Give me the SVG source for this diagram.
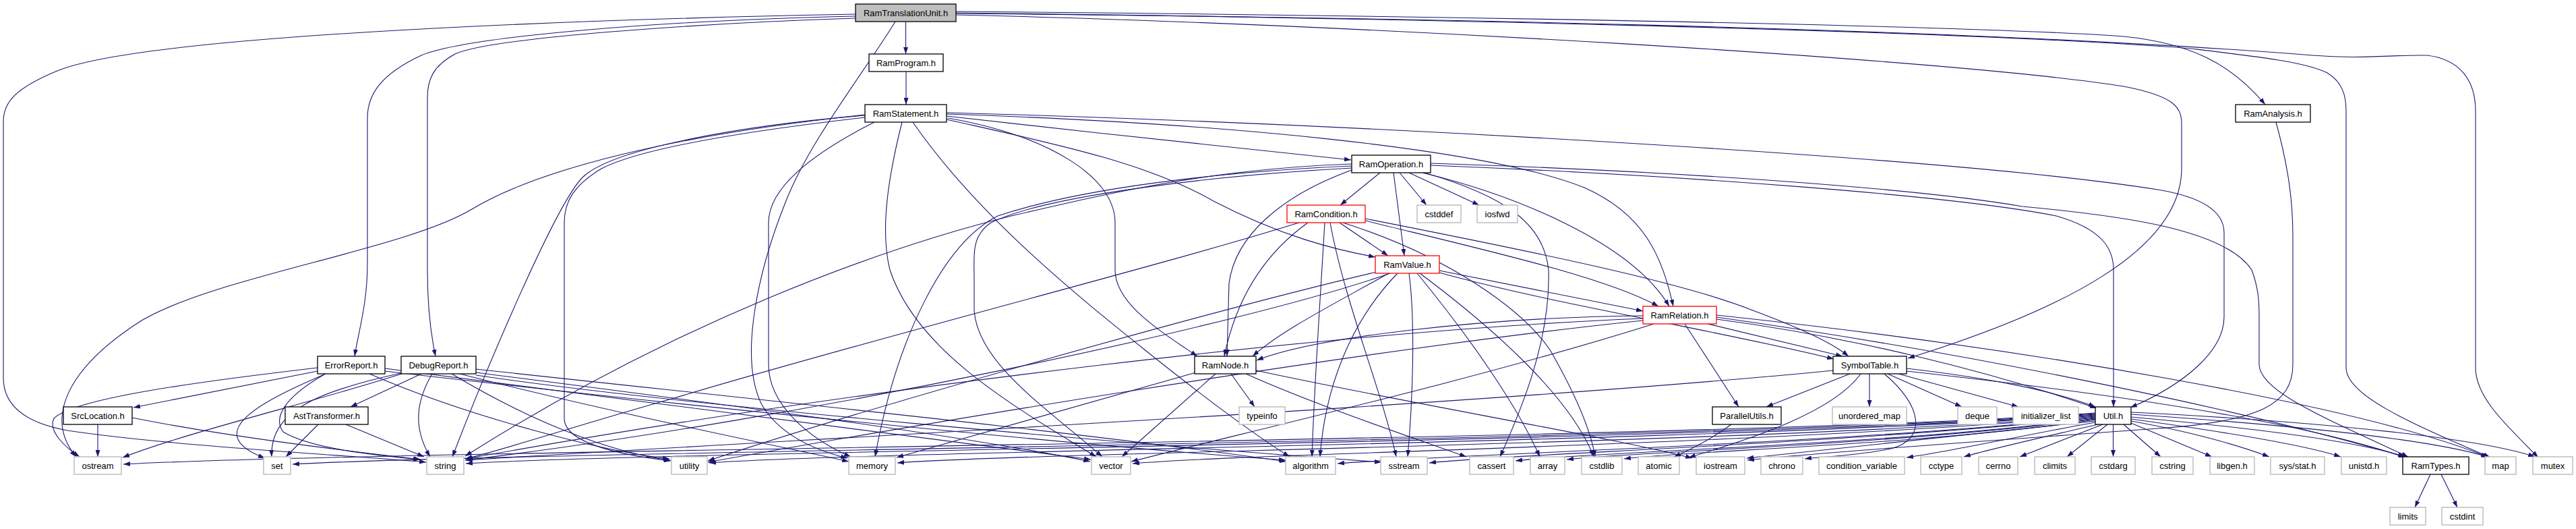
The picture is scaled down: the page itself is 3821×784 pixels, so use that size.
<svg xmlns="http://www.w3.org/2000/svg" width="3821" height="784" viewBox="0 0 3821 784">
<style>
.e path{fill:none;stroke:#191970;stroke-width:1.1;marker-end:url(#a)}
.nd rect{fill:#fff;stroke:#000;stroke-width:1.3}
.nd.g rect{stroke:#bfbfbf;stroke-width:1.5}
.nd.r rect{stroke:#ff0000}
.nd.root rect{fill:#bfbfbf}
.nd text{font-family:"Liberation Sans",Arial,sans-serif;font-size:13px;text-anchor:middle;fill:#000}
</style>
<defs>
<marker id="a" viewBox="0 0 10 7" refX="10" refY="3.5" markerWidth="10" markerHeight="7" markerUnits="userSpaceOnUse" orient="auto"><path d="M0,0 L10,3.5 L0,7 z" fill="#191970"/></marker>
</defs>
<rect width="3821" height="784" fill="#fff"/>
<g id="edges" class="e">
<path d="M1343.5,32 L1343.5,80"/>
<path d="M1269,24 C1000,30 700,52 625,82 C565,110 545,140 545,175 L545,390 C545,450 532,490 526,528"/>
<path d="M1269,27 C1050,34 730,55 675,80 C642,98 634,118 634,145 L634,400 C634,460 640,500 646,528"/>
<path d="M1269,21 C900,28 220,50 85,105 C25,130 5,150 5,180 L5,560 C5,605 45,628 100,638 C260,662 540,676 632,685"/>
<path d="M1328,32 C1280,110 1200,210 1165,300 C1125,400 1095,530 1130,600 C1160,650 1220,670 1257,679"/>
<path d="M1418,22 C2000,35 2900,88 3150,128 C3228,143 3236,160 3236,185 L3236,250 C3236,370 3060,460 2830,531"/>
<path d="M1418,17 C2000,22 2900,36 3150,54 C3250,64 3310,95 3360,155"/>
<path d="M1418,19 C2000,26 2900,44 3250,72 C3350,84 3420,92 3452,108 C3475,122 3480,142 3480,165 L3480,545 C3480,585 3570,625 3694,678"/>
<path d="M1418,20 C2000,25 2900,40 3430,82 C3500,88 3550,81 3600,82 C3650,88 3672,120 3672,165 L3672,545 C3672,590 3720,632 3765,678"/>
<path d="M1344,106 L1344,155"/>
<path d="M1404,172 C1600,195 1850,220 2004,237"/>
<path d="M1404,169 C1800,182 2200,218 2350,278 C2440,318 2465,380 2482,454"/>
<path d="M1406,175 C1550,200 1654,260 1654,330 L1654,400 C1654,450 1720,490 1776,528"/>
<path d="M1404,177 C1550,210 1700,240 1800,298 C1900,350 1980,370 2040,381"/>
<path d="M1404,167 C2000,183 2900,233 3200,281 C3280,294 3299,320 3299,345 L3299,470 C3299,520 3240,570 3160,604"/>
<path d="M1283,170 C1000,200 800,250 700,310 C600,370 320,410 210,475 C100,545 65,620 113,677"/>
<path d="M1283,171 C1100,186 910,220 865,262 C825,300 720,550 671,677"/>
<path d="M1283,174 C1100,195 950,220 892,250 C850,275 837,300 837,330 L837,620 C837,652 900,672 995,683"/>
<path d="M1297,181 C1200,230 1140,280 1140,330 L1140,540 C1140,600 1200,650 1262,677"/>
<path d="M1338,181 C1318,260 1305,340 1320,400 C1360,520 1500,600 1626,677"/>
<path d="M1354,181 C1450,320 1600,440 1700,520 C1800,600 1870,650 1913,677"/>
<path d="M2047,256 L1988,304"/>
<path d="M2067,256 L2083,379"/>
<path d="M2076,256 L2116,304"/>
<path d="M2090,256 L2194,304"/>
<path d="M2110,256 C2250,290 2420,360 2476,454"/>
<path d="M2005,252 C1900,290 1832,350 1823,420 L1820,528"/>
<path d="M2005,243 C1800,250 1650,285 1500,320 C1300,370 1000,480 690,676"/>
<path d="M2005,246 C1800,255 1600,280 1480,320 C1400,360 1330,500 1298,677"/>
<path d="M2005,249 C1800,260 1550,290 1470,330 C1440,350 1445,380 1445,410 L1445,460 C1450,540 1560,610 1635,677"/>
<path d="M2113,256 C2230,290 2290,330 2297,400 C2300,500 2260,600 2225,677"/>
<path d="M2122,245 C2500,260 2900,290 3050,320 C3120,340 3135,370 3135,400 L3135,603"/>
<path d="M2122,242 C2500,254 2850,280 3000,306 C3150,320 3300,340 3340,400 C3351,430 3351,450 3351,470 L3351,540 C3351,580 3450,620 3572,677"/>
<path d="M1987,330 L2059,379"/>
<path d="M2025,327 C2200,370 2380,410 2460,454"/>
<path d="M2025,324 C2300,378 2500,420 2600,460 C2680,490 2720,510 2742,528"/>
<path d="M1940,330 C1870,380 1832,450 1816,528"/>
<path d="M1927,330 C1700,400 1300,500 1000,590 C850,632 750,666 690,680"/>
<path d="M1965,330 C1958,450 1950,560 1946,677"/>
<path d="M1973,330 C1995,450 2050,580 2071,677"/>
<path d="M1992,330 C2150,380 2260,460 2300,520 C2340,590 2360,640 2366,677"/>
<path d="M2135,401 L2437,461"/>
<path d="M2135,404 C2300,450 2550,490 2720,532"/>
<path d="M2060,405 C1980,450 1900,490 1858,528"/>
<path d="M2042,403 C1800,460 1300,600 1050,683"/>
<path d="M2062,405 C1850,480 1200,620 690,682"/>
<path d="M2073,405 C2000,480 1965,580 1958,677"/>
<path d="M2090,405 C2100,480 2095,600 2088,677"/>
<path d="M2102,405 C2180,500 2250,600 2284,677"/>
<path d="M2106,405 C2220,490 2330,590 2364,677"/>
<path d="M2499,480 L2579,603"/>
<path d="M2533,480 L2733,528"/>
<path d="M2546,473 C2750,500 2950,550 3110,605"/>
<path d="M2546,470 C2900,520 3300,600 3568,677"/>
<path d="M2546,467 C3000,515 3500,600 3692,678"/>
<path d="M2437,468 C2200,470 1950,500 1864,534"/>
<path d="M2437,472 C2000,490 1300,570 691,680"/>
<path d="M2437,475 C2000,520 1300,640 1050,685"/>
<path d="M2453,480 C2200,560 1850,640 1678,684"/>
<path d="M1826,554 L1861,603"/>
<path d="M1803,554 L1664,677"/>
<path d="M1774,552 L1330,678"/>
<path d="M1848,554 C1950,600 2100,650 2175,677"/>
<path d="M1863,549 C2100,600 2400,650 2510,679"/>
<path d="M471,545 C300,565 110,590 80,620 C70,640 100,665 118,677"/>
<path d="M471,550 L198,604"/>
<path d="M483,554 C400,590 290,640 393,679"/>
<path d="M481,555 C420,590 405,620 420,640 C460,665 560,675 623,681"/>
<path d="M548,554 C700,620 900,670 993,680"/>
<path d="M571,546 C900,590 1400,650 1618,681"/>
<path d="M571,550 C1000,600 1600,660 1907,682"/>
<path d="M596,554 C450,600 280,640 182,678"/>
<path d="M595,553 C470,580 400,610 403,677"/>
<path d="M625,554 L520,603"/>
<path d="M641,554 C620,590 610,630 638,677"/>
<path d="M670,554 C780,620 900,670 994,682"/>
<path d="M706,552 C1000,590 1400,640 1617,684"/>
<path d="M706,547 C1100,590 1600,640 1908,684"/>
<path d="M706,556 C1000,600 1700,660 2049,685"/>
<path d="M682,554 C900,610 1150,660 1259,684"/>
<path d="M145,629 L145,677"/>
<path d="M196,619 C350,650 550,672 624,681"/>
<path d="M472,629 L424,677"/>
<path d="M513,629 L629,677"/>
<path d="M2744,554 L2620,603"/>
<path d="M2773,554 L2773,603"/>
<path d="M2800,554 L2910,603"/>
<path d="M2816,554 L2994,603"/>
<path d="M2828,546 C2950,560 3050,580 3108,603"/>
<path d="M2828,550 C3100,580 3400,620 3568,678"/>
<path d="M2760,554 C2720,610 2600,650 2505,678"/>
<path d="M2795,554 C2850,600 2860,650 2805,665 C2750,676 2700,677 2677,680"/>
<path d="M2719,549 C2200,600 1200,650 691,682"/>
<path d="M2568,629 C2540,650 2510,665 2483,677"/>
<path d="M3376,181 C3395,250 3401,300 3401,350 L3401,540 C3401,600 3350,625 3200,635 C3000,650 2700,670 2592,682"/>
<path d="M3108,612 C2500,655 600,666 183,688"/>
<path d="M3108,613 C2500,656 800,668 434,688"/>
<path d="M3108,614 C2500,657 1000,668 691,687"/>
<path d="M3108,615 C2500,658 1300,668 1052,686"/>
<path d="M3108,616 C2600,658 1550,670 1331,686"/>
<path d="M3108,617 C2600,660 1850,672 1680,687"/>
<path d="M3108,618 C2700,660 2150,673 1984,687"/>
<path d="M3108,619 C2700,660 2250,672 2120,686"/>
<path d="M3108,620 C2800,660 2350,670 2248,683"/>
<path d="M3108,621 C2800,660 2420,670 2324,681"/>
<path d="M3108,622 C2850,660 2500,668 2409,680"/>
<path d="M3108,624 C2900,645 2700,668 2591,679"/>
<path d="M3108,626 C3000,645 2900,668 2828,678"/>
<path d="M3112,629 C3000,655 2950,666 2913,677"/>
<path d="M3119,629 L2996,677"/>
<path d="M3126,629 L3066,677"/>
<path d="M3134.5,629 L3134.5,677"/>
<path d="M3150,629 L3205,677"/>
<path d="M3161,627 L3281,677"/>
<path d="M3161,624 C3250,640 3320,660 3366,677"/>
<path d="M3161,621 C3300,640 3420,660 3472,677"/>
<path d="M3161,618 C3350,635 3500,655 3567,677"/>
<path d="M3161,614 C3400,630 3600,650 3690,677"/>
<path d="M3161,611 C3450,625 3680,650 3760,677"/>
<path d="M3605,703 L3582,752"/>
<path d="M3621,703 L3645,752"/>
</g>
<g id="n_RamTranslationUnit" class="nd root"><rect x="1269" y="6" width="149" height="26"/><text x="1343.5" y="24">RamTranslationUnit.h</text></g>
<g id="n_RamProgram" class="nd"><rect x="1289" y="80" width="110" height="26"/><text x="1344" y="98">RamProgram.h</text></g>
<g id="n_RamStatement" class="nd"><rect x="1283" y="155" width="121" height="26"/><text x="1343.5" y="173">RamStatement.h</text></g>
<g id="n_RamAnalysis" class="nd"><rect x="3316" y="155" width="111" height="26"/><text x="3371.5" y="173">RamAnalysis.h</text></g>
<g id="n_RamOperation" class="nd"><rect x="2005" y="230" width="117" height="26"/><text x="2063.5" y="248">RamOperation.h</text></g>
<g id="n_RamCondition" class="nd r"><rect x="1909" y="304" width="116" height="26"/><text x="1967" y="322">RamCondition.h</text></g>
<g id="n_cstddef" class="nd g"><rect x="2102" y="304" width="65" height="26"/><text x="2134.5" y="322">cstddef</text></g>
<g id="n_iosfwd" class="nd g"><rect x="2191" y="304" width="60" height="26"/><text x="2221" y="322">iosfwd</text></g>
<g id="n_RamValue" class="nd r"><rect x="2040" y="379" width="95" height="26"/><text x="2087.5" y="397">RamValue.h</text></g>
<g id="n_RamRelation" class="nd r"><rect x="2437" y="454" width="109" height="26"/><text x="2491.5" y="472">RamRelation.h</text></g>
<g id="n_ErrorReport" class="nd"><rect x="471" y="528" width="100" height="26"/><text x="521" y="546">ErrorReport.h</text></g>
<g id="n_DebugReport" class="nd"><rect x="595" y="528" width="111" height="26"/><text x="650.5" y="546">DebugReport.h</text></g>
<g id="n_RamNode" class="nd"><rect x="1772" y="528" width="91" height="26"/><text x="1817.5" y="546">RamNode.h</text></g>
<g id="n_SymbolTable" class="nd"><rect x="2719" y="528" width="109" height="26"/><text x="2773.5" y="546">SymbolTable.h</text></g>
<g id="n_SrcLocation" class="nd"><rect x="94" y="603" width="102" height="26"/><text x="145" y="621">SrcLocation.h</text></g>
<g id="n_AstTransformer" class="nd"><rect x="423" y="603" width="123" height="26"/><text x="484.5" y="621">AstTransformer.h</text></g>
<g id="n_typeinfo" class="nd g"><rect x="1838" y="603" width="68" height="26"/><text x="1872" y="621">typeinfo</text></g>
<g id="n_ParallelUtils" class="nd"><rect x="2540" y="603" width="102" height="26"/><text x="2591" y="621">ParallelUtils.h</text></g>
<g id="n_unordered_map" class="nd g"><rect x="2718" y="603" width="110" height="26"/><text x="2773" y="621">unordered_map</text></g>
<g id="n_deque" class="nd g"><rect x="2904" y="603" width="58" height="26"/><text x="2933" y="621">deque</text></g>
<g id="n_initializer_list" class="nd g"><rect x="2986" y="603" width="97" height="26"/><text x="3034.5" y="621">initializer_list</text></g>
<g id="n_Util" class="nd"><rect x="3108" y="603" width="53" height="26"/><text x="3134.5" y="621">Util.h</text></g>
<g id="n_ostream" class="nd g"><rect x="110" y="677" width="70" height="26"/><text x="145" y="695">ostream</text></g>
<g id="n_set" class="nd g"><rect x="391" y="677" width="40" height="26"/><text x="411" y="695">set</text></g>
<g id="n_string" class="nd g"><rect x="633" y="677" width="55" height="26"/><text x="660.5" y="695">string</text></g>
<g id="n_utility" class="nd g"><rect x="996" y="677" width="53" height="26"/><text x="1022.5" y="695">utility</text></g>
<g id="n_memory" class="nd g"><rect x="1259" y="677" width="69" height="26"/><text x="1293.5" y="695">memory</text></g>
<g id="n_vector" class="nd g"><rect x="1619" y="677" width="58" height="26"/><text x="1648" y="695">vector</text></g>
<g id="n_algorithm" class="nd g"><rect x="1907" y="677" width="74" height="26"/><text x="1944" y="695">algorithm</text></g>
<g id="n_sstream" class="nd g"><rect x="2048" y="677" width="69" height="26"/><text x="2082.5" y="695">sstream</text></g>
<g id="n_cassert" class="nd g"><rect x="2180" y="677" width="65" height="26"/><text x="2212.5" y="695">cassert</text></g>
<g id="n_array" class="nd g"><rect x="2270" y="677" width="51" height="26"/><text x="2295.5" y="695">array</text></g>
<g id="n_cstdlib" class="nd g"><rect x="2346" y="677" width="60" height="26"/><text x="2376" y="695">cstdlib</text></g>
<g id="n_atomic" class="nd g"><rect x="2430" y="677" width="61" height="26"/><text x="2460.5" y="695">atomic</text></g>
<g id="n_iostream" class="nd g"><rect x="2516" y="677" width="72" height="26"/><text x="2552" y="695">iostream</text></g>
<g id="n_chrono" class="nd g"><rect x="2612" y="677" width="62" height="26"/><text x="2643" y="695">chrono</text></g>
<g id="n_condition_variable" class="nd g"><rect x="2698" y="677" width="127" height="26"/><text x="2761.5" y="695">condition_variable</text></g>
<g id="n_cctype" class="nd g"><rect x="2849" y="677" width="61" height="26"/><text x="2879.5" y="695">cctype</text></g>
<g id="n_cerrno" class="nd g"><rect x="2935" y="677" width="58" height="26"/><text x="2964" y="695">cerrno</text></g>
<g id="n_climits" class="nd g"><rect x="3018" y="677" width="60" height="26"/><text x="3048" y="695">climits</text></g>
<g id="n_cstdarg" class="nd g"><rect x="3102" y="677" width="65" height="26"/><text x="3134.5" y="695">cstdarg</text></g>
<g id="n_cstring" class="nd g"><rect x="3192" y="677" width="61" height="26"/><text x="3222.5" y="695">cstring</text></g>
<g id="n_libgen" class="nd g"><rect x="3278" y="677" width="66" height="26"/><text x="3311" y="695">libgen.h</text></g>
<g id="n_sysstat" class="nd g"><rect x="3368" y="677" width="80" height="26"/><text x="3408" y="695">sys/stat.h</text></g>
<g id="n_unistd" class="nd g"><rect x="3473" y="677" width="67" height="26"/><text x="3506.5" y="695">unistd.h</text></g>
<g id="n_RamTypes" class="nd"><rect x="3564" y="677" width="98" height="26"/><text x="3613" y="695">RamTypes.h</text></g>
<g id="n_map" class="nd g"><rect x="3686" y="677" width="46" height="26"/><text x="3709" y="695">map</text></g>
<g id="n_mutex" class="nd g"><rect x="3757" y="677" width="59" height="26"/><text x="3786.5" y="695">mutex</text></g>
<g id="n_limits" class="nd g"><rect x="3545" y="752" width="53" height="26"/><text x="3571.5" y="770">limits</text></g>
<g id="n_cstdint" class="nd g"><rect x="3622" y="752" width="61" height="26"/><text x="3652.5" y="770">cstdint</text></g>
</svg>
